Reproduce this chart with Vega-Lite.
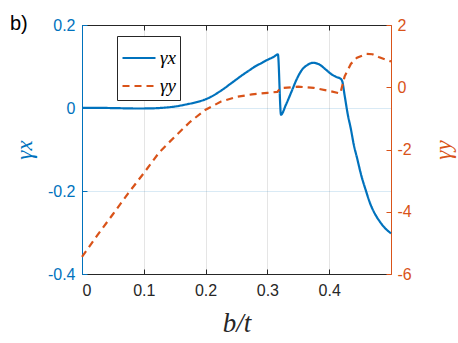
{
  "$schema": "https://vega.github.io/schema/vega-lite/v6.json",
  "width": 309,
  "height": 249,
  "autosize": {"type": "none"},
  "padding": {"left": 82, "top": 25, "right": 67, "bottom": 69},
  "title": {"text": "b)", "anchor": "start", "frame": "group", "dx": -72, "dy": 23, "offset": -10, "baseline": "alphabetic", "fontSize": 20, "font": "Liberation Sans", "fontWeight": "normal", "color": "#000000"},
  "config": {"view": {"stroke": null}, "font": "Liberation Sans"},
  "datasets": {
    "gx": [
      {"b": 0, "v": 0.0005}, {"b": 0.03, "v": 0.0003}, {"b": 0.06, "v": -0.0005}, {"b": 0.09, "v": -0.0012},
      {"b": 0.11, "v": -0.001}, {"b": 0.13, "v": 0.0005}, {"b": 0.15, "v": 0.0035}, {"b": 0.17, "v": 0.009},
      {"b": 0.19, "v": 0.016}, {"b": 0.2, "v": 0.021}, {"b": 0.21, "v": 0.028}, {"b": 0.22, "v": 0.037},
      {"b": 0.23, "v": 0.047}, {"b": 0.24, "v": 0.058}, {"b": 0.25, "v": 0.069}, {"b": 0.26, "v": 0.08},
      {"b": 0.27, "v": 0.09}, {"b": 0.28, "v": 0.1}, {"b": 0.29, "v": 0.108}, {"b": 0.3, "v": 0.116},
      {"b": 0.31, "v": 0.123}, {"b": 0.317, "v": 0.129}, {"b": 0.322, "v": -0.016}, {"b": 0.33, "v": 0.008},
      {"b": 0.34, "v": 0.043}, {"b": 0.347, "v": 0.068}, {"b": 0.355, "v": 0.09}, {"b": 0.365, "v": 0.104},
      {"b": 0.374, "v": 0.109}, {"b": 0.385, "v": 0.104}, {"b": 0.395, "v": 0.092}, {"b": 0.405, "v": 0.08},
      {"b": 0.413, "v": 0.074}, {"b": 0.418, "v": 0.071}, {"b": 0.421, "v": 0.065}, {"b": 0.425, "v": 0.03},
      {"b": 0.43, "v": -0.015}, {"b": 0.435, "v": -0.05}, {"b": 0.44, "v": -0.09}, {"b": 0.445, "v": -0.12},
      {"b": 0.452, "v": -0.163}, {"b": 0.46, "v": -0.202}, {"b": 0.466, "v": -0.229}, {"b": 0.474, "v": -0.255},
      {"b": 0.482, "v": -0.274}, {"b": 0.49, "v": -0.289}, {"b": 0.5, "v": -0.302}
    ],
    "gy": [
      {"b": 0, "v": -5.45}, {"b": 0.025, "v": -4.75}, {"b": 0.05, "v": -4.08}, {"b": 0.075, "v": -3.4},
      {"b": 0.1, "v": -2.76}, {"b": 0.125, "v": -2.09}, {"b": 0.15, "v": -1.59}, {"b": 0.175, "v": -1.11},
      {"b": 0.2, "v": -0.72}, {"b": 0.225, "v": -0.46}, {"b": 0.25, "v": -0.31}, {"b": 0.275, "v": -0.23},
      {"b": 0.3, "v": -0.18}, {"b": 0.316, "v": -0.15}, {"b": 0.321, "v": -0.03}, {"b": 0.35, "v": 0.02},
      {"b": 0.375, "v": -0.02}, {"b": 0.4, "v": -0.12}, {"b": 0.418, "v": -0.2}, {"b": 0.425, "v": 0.35},
      {"b": 0.435, "v": 0.75}, {"b": 0.445, "v": 0.95}, {"b": 0.46, "v": 1.07}, {"b": 0.47, "v": 1.06},
      {"b": 0.48, "v": 0.97}, {"b": 0.49, "v": 0.9}, {"b": 0.5, "v": 0.83}
    ]
  },
  "layer": [
    {
      "data": {"name": "gx"},
      "transform": [{"calculate": "'γx'", "as": "s"}],
      "mark": {"type": "line", "strokeWidth": 2.2, "interpolate": "monotone"},
      "encoding": {
        "x": {"field": "b", "type": "quantitative", "scale": {"domain": [0, 0.5], "nice": false, "zero": false},
          "axis": {"orient": "bottom", "values": [0, 0.1, 0.2, 0.3, 0.4], "labelExpr": "toString(datum.value)",
            "grid": true, "gridColor": "#262626", "gridOpacity": 0.12, "domainColor": "#262626", "tickColor": "#262626",
            "labelColor": "#262626", "labelFontSize": 16, "labelFont": "Liberation Sans", "tickSize": -5, "labelPadding": 13,
            "title": "b/t", "titleFont": "Liberation Serif", "titleFontStyle": "italic", "titleFontWeight": "normal",
            "titleFontSize": 27, "titleColor": "#262626", "titleX": 154.5, "titleY": 57, "titleBaseline": "alphabetic", "titleAlign": "center"}},
        "y": {"field": "v", "type": "quantitative", "scale": {"domain": [-0.4, 0.2], "nice": false, "zero": false},
          "axis": {"orient": "left", "values": [-0.4, -0.2, 0, 0.2], "labelExpr": "toString(datum.value)",
            "grid": true, "gridColor": "#0072BD", "gridOpacity": 0.15, "domainColor": "#0072BD", "tickColor": "#0072BD",
            "labelColor": "#0072BD", "labelFontSize": 16, "labelFont": "Liberation Sans", "tickSize": -5, "labelPadding": 12,
            "title": "γx", "titleFont": "Liberation Serif", "titleFontStyle": "italic", "titleFontWeight": "normal",
            "titleFontSize": 23, "titleColor": "#0072BD", "titleAngle": -90, "titleX": -58, "titleY": 124.5,
            "titleAlign": "center", "titleBaseline": "middle"}},
        "color": {"field": "s", "type": "nominal", "scale": {"domain": ["γx", "γy"], "range": ["#0072BD", "#D95319"]},
          "legend": {"orient": "none", "legendX": 35, "legendY": 11, "title": null, "symbolType": "stroke", "symbolSize": 1089,
            "symbolStrokeWidth": 2.2, "strokeColor": "#262626", "fillColor": "#ffffff", "padding": 4, "rowPadding": -7,
            "labelFont": "Liberation Serif", "labelFontStyle": "italic", "labelFontSize": 19, "labelOffset": 3, "labelColor": "#000000"}},
        "strokeDash": {"field": "s", "type": "nominal", "scale": {"domain": ["γx", "γy"], "range": [[1, 0], [7, 5]]},
          "legend": {"orient": "none", "legendX": 35, "legendY": 11, "title": null, "symbolType": "stroke", "symbolSize": 1089,
            "symbolStrokeWidth": 2.2, "strokeColor": "#262626", "fillColor": "#ffffff", "padding": 4, "rowPadding": -7,
            "labelFont": "Liberation Serif", "labelFontStyle": "italic", "labelFontSize": 19, "labelOffset": 3, "labelColor": "#000000"}}
      }
    },
    {
      "data": {"name": "gy"},
      "transform": [{"calculate": "'γy'", "as": "s"}],
      "mark": {"type": "line", "strokeWidth": 2.2},
      "encoding": {
        "x": {"field": "b", "type": "quantitative", "scale": {"domain": [0, 0.5], "nice": false, "zero": false},
          "axis": {"orient": "top", "values": [0, 0.1, 0.2, 0.3, 0.4], "labels": false, "title": null, "grid": false,
            "domainColor": "#262626", "tickColor": "#262626", "tickSize": -5}},
        "y": {"field": "v", "type": "quantitative", "scale": {"domain": [-6, 2], "nice": false, "zero": false},
          "axis": {"orient": "right", "values": [-6, -4, -2, 0, 2], "labelExpr": "toString(datum.value)",
            "grid": false, "domainColor": "#D95319", "tickColor": "#D95319",
            "labelColor": "#D95319", "labelFontSize": 16, "labelFont": "Liberation Sans", "tickSize": -5, "labelPadding": 11,
            "title": "γy", "titleFont": "Liberation Serif", "titleFontStyle": "italic", "titleFontWeight": "normal",
            "titleFontSize": 23, "titleColor": "#D95319", "titleAngle": -90, "titleX": 52, "titleY": 124.5,
            "titleAlign": "center", "titleBaseline": "middle"}},
        "color": {"field": "s", "type": "nominal", "scale": {"domain": ["γx", "γy"], "range": ["#0072BD", "#D95319"]},
          "legend": {"orient": "none", "legendX": 35, "legendY": 11, "title": null, "symbolType": "stroke", "symbolSize": 1089,
            "symbolStrokeWidth": 2.2, "strokeColor": "#262626", "fillColor": "#ffffff", "padding": 4, "rowPadding": -7,
            "labelFont": "Liberation Serif", "labelFontStyle": "italic", "labelFontSize": 19, "labelOffset": 3, "labelColor": "#000000"}},
        "strokeDash": {"field": "s", "type": "nominal", "scale": {"domain": ["γx", "γy"], "range": [[1, 0], [7, 5]]},
          "legend": {"orient": "none", "legendX": 35, "legendY": 11, "title": null, "symbolType": "stroke", "symbolSize": 1089,
            "symbolStrokeWidth": 2.2, "strokeColor": "#262626", "fillColor": "#ffffff", "padding": 4, "rowPadding": -7,
            "labelFont": "Liberation Serif", "labelFontStyle": "italic", "labelFontSize": 19, "labelOffset": 3, "labelColor": "#000000"}}
      }
    }
  ],
  "resolve": {"scale": {"y": "independent"}, "axis": {"x": "independent"}}
}
